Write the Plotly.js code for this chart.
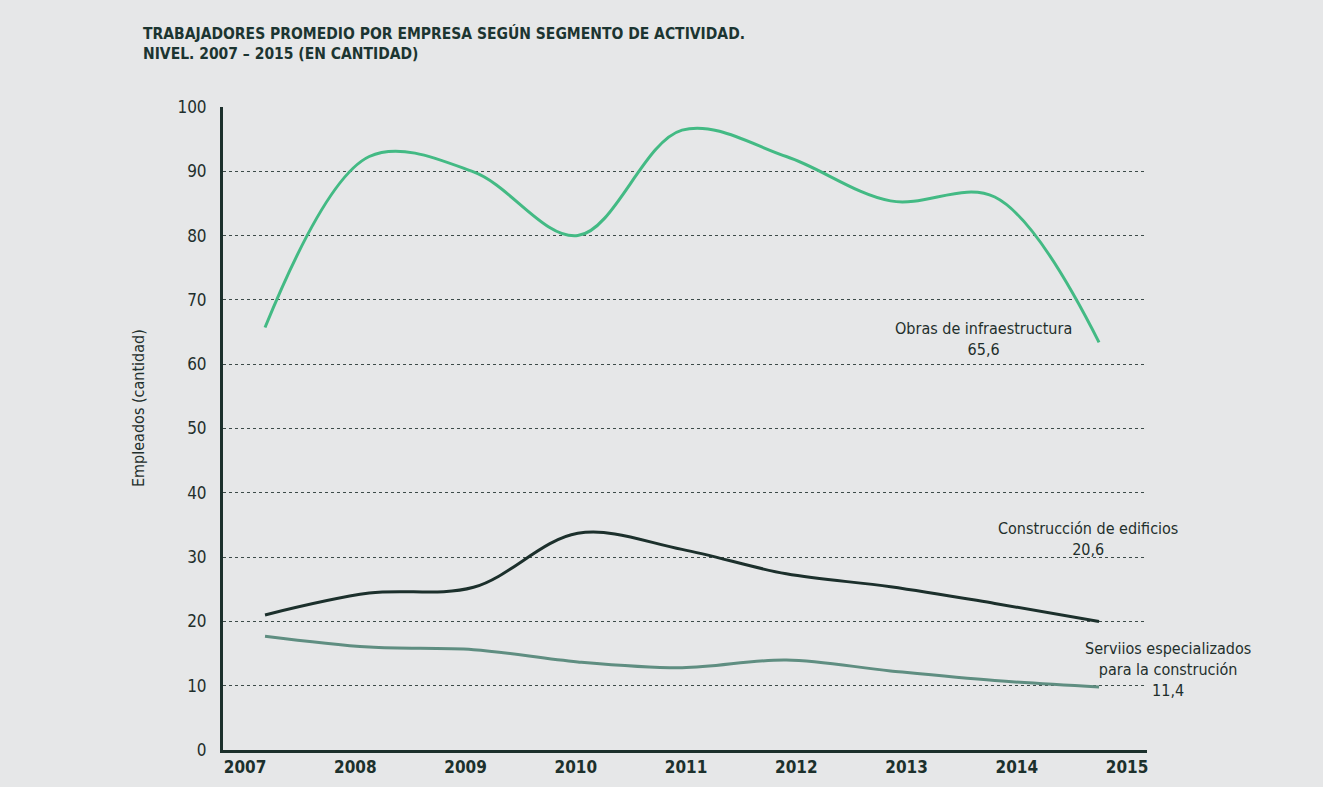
<!DOCTYPE html>
<html>
<head>
<meta charset="utf-8">
<script src="https://cdn.plot.ly/plotly-3.0.1.min.js"></script>
<style>
html,body{margin:0;padding:0;background:#e6e7e8;}
#chart{width:1323px;height:787px;}
</style>
</head>
<body>
<div id="chart"></div>
<script>
const years = [2007, 2008, 2009, 2010, 2011, 2012, 2013, 2014, 2015];
const tickYears = ['2007','2008','2009','2010','2011','2012','2013','2014','2015'];
const obrasInfra = [65.7, 92.3, 89.9, 80.0, 96.4, 92.3, 85.4, 86.0, 63.4];
const edificios = [21.0, 24.4, 25.3, 33.7, 31.2, 27.4, 25.4, 22.8, 20.0];
const servicios = [17.7, 16.0, 15.6, 13.7, 12.8, 14.0, 12.3, 10.8, 9.8];
const seriesNames = ['Obras de infraestructura', 'Construcción de edificios', 'Serviios especializados para la construción'];
const labelTexts = ['Obras de infraestructura<br>65,6', 'Construcción de edificios<br>20,6', 'Serviios especializados<br>para la construción<br>11,4'];

const FONT = '"DejaVu Sans Condensed", "Liberation Sans Narrow", Arial, sans-serif';
const TXT = '#1f2f2c';

const traces = [
  {x: years, y: obrasInfra, name: seriesNames[0], mode: 'lines', line: {color: '#43ba84', width: 3, shape: 'spline', smoothing: 1}},
  {x: years, y: edificios, name: seriesNames[1], mode: 'lines', line: {color: '#1c302c', width: 3, shape: 'spline', smoothing: 1}},
  {x: years, y: servicios, name: seriesNames[2], mode: 'lines', line: {color: '#5f8e81', width: 3, shape: 'spline', smoothing: 1}},
  {x: years, y: years.map(() => null), xaxis: 'x2', mode: 'lines', showlegend: false, hoverinfo: 'skip'}
];

const layout = {
  width: 1323, height: 787,
  paper_bgcolor: '#e6e7e8', plot_bgcolor: '#e6e7e8',
  margin: {l: 223, r: 176, t: 107, b: 37, pad: 0},
  showlegend: false,
  font: {family: FONT, color: TXT},
  title: {
    text: 'TRABAJADORES PROMEDIO POR EMPRESA SEGÚN SEGMENTO DE ACTIVIDAD.<br>NIVEL. 2007 – 2015 (EN CANTIDAD)',
    font: {family: FONT, size: 15.5, color: '#1c3531', weight: 'bold'},
    xref: 'container', yref: 'container', x: 143/1323, xanchor: 'left', y: 1 - 39/787, yanchor: 'top'
  },
  xaxis: {
    type: 'linear', range: [2006.597, 2015.46], showgrid: false, zeroline: false,
    showticklabels: false, ticks: '', showline: false, fixedrange: true
  },
  xaxis2: {
    type: 'linear', overlaying: 'x', anchor: 'y', side: 'bottom',
    range: [2006.8, 2015.181], tickvals: years, ticktext: tickYears,
    showgrid: false, zeroline: false, ticks: '',
    showline: true, linecolor: '#1c302c', linewidth: 3,
    tickfont: {family: FONT, size: 17, color: '#1c302c', weight: 'bold'},
    ticklabelstandoff: 0
  },
  yaxis: {
    range: [0, 100], tickvals: [0,10,20,30,40,50,60,70,80,90,100],
    showgrid: true, gridcolor: '#3d4b49', griddash: 'dot', gridwidth: 1,
    zeroline: false, showline: true, linecolor: '#1c302c', linewidth: 3,
    ticks: '', tickfont: {family: FONT, size: 17, color: TXT},
    ticklabelstandoff: 10
  },
  annotations: [
    {text: 'Empleados (cantidad)', xref: 'paper', yref: 'paper', x: (138-223)/924, y: (750-408)/(750-107), textangle: -90,
     showarrow: false, xanchor: 'center', yanchor: 'middle', font: {family: FONT, size: 16, color: TXT}},
    {text: labelTexts[0], xref: 'paper', yref: 'paper', x: (983.5-223)/924, y: (750-339)/643, showarrow: false, align: 'center',
     xanchor: 'center', yanchor: 'middle', font: {family: FONT, size: 16, color: TXT}},
    {text: labelTexts[1], xref: 'paper', yref: 'paper', x: (1088-223)/924, y: (750-538.5)/643, showarrow: false, align: 'center',
     xanchor: 'center', yanchor: 'middle', font: {family: FONT, size: 16, color: TXT}},
    {text: labelTexts[2], xref: 'paper', yref: 'paper', x: (1168-223)/924, y: (750-669)/643, showarrow: false, align: 'center',
     xanchor: 'center', yanchor: 'middle', font: {family: FONT, size: 16, color: TXT}}
  ]
};

Plotly.newPlot('chart', traces, layout, {staticPlot: true, displayModeBar: false});
</script>
</body>
</html>
